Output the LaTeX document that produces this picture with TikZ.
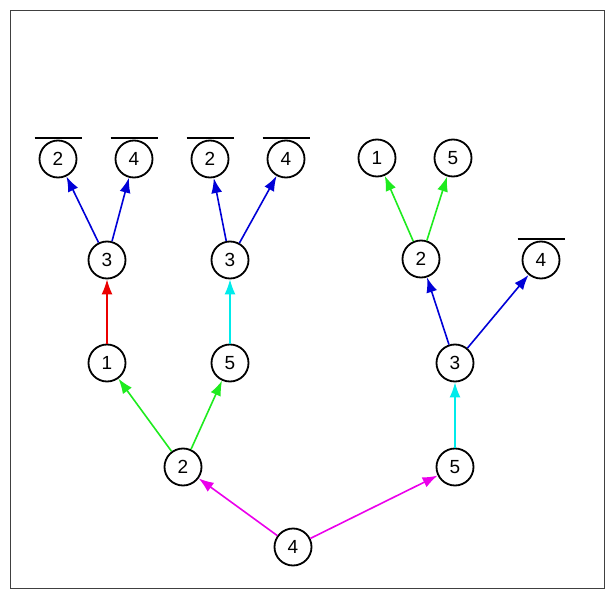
\documentclass[tikz,border=0pt]{standalone}
\usepackage{fontspec}
\setmainfont{Liberation Sans}
\usetikzlibrary{arrows.meta}
\definecolor{eblue}{RGB}{0,0,215}
\definecolor{egreen}{RGB}{30,235,30}
\definecolor{ered}{RGB}{235,0,0}
\definecolor{ecyan}{RGB}{0,235,235}
\definecolor{emagenta}{RGB}{235,0,235}
\tikzset{every node/.style={circle, draw, line width=1.8pt, minimum size=37pt, inner sep=0pt, font=\fontsize{19}{22}\selectfont},
  edge/.style={line width=1.6pt, -{Latex[length=15pt,width=11pt]}},
  overbar/.style={black, line width=1.8pt}}

\begin{document}
\begin{tikzpicture}[x=1pt,y=-1pt]
  \useasboundingbox (0,0) rectangle (614,597);
  \draw[black!75, line width=1pt] (10,10) rectangle (604,588);
  % root
  \node (r)  at (293,547) {4};
  % second level
  \node (l2) at (183,467) {2};
  \node (r5) at (455,467) {5};
  % third level
  \node (l1) at (107,363) {1};
  \node (m5) at (230,363) {5};
  \node (r3) at (455,363) {3};
  % fourth level
  \node (l3) at (107,260) {3};
  \node (m3) at (230,260) {3};
  \node (r2) at (421,259) {2};
  \node (r4) at (541,260) {4};
  % leaves
  \node (a) at ( 58,159) {2};
  \node (b) at (134,159) {4};
  \node (c) at (210,159) {2};
  \node (d) at (286,159) {4};
  \node (e) at (377,158) {1};
  \node (f) at (453,158) {5};
  \foreach \n in {a,b,c,d,r4}
    \draw[overbar] ([xshift=-23.5pt,yshift=1.5pt]\n.north) -- ++(47pt,0pt);
  \draw[edge,emagenta] (r) -- (l2);
  \draw[edge,emagenta] (r) -- (r5);
  \draw[edge,egreen] (l2) -- (l1);
  \draw[edge,egreen] (l2) -- (m5);
  \draw[edge,ered] (l1) -- (l3);
  \draw[edge,ecyan] (m5) -- (m3);
  \draw[edge,ecyan] (r5) -- (r3);
  \draw[edge,eblue] (l3) -- (a);
  \draw[edge,eblue] (l3) -- (b);
  \draw[edge,eblue] (m3) -- (c);
  \draw[edge,eblue] (m3) -- (d);
  \draw[edge,eblue] (r3) -- (r2);
  \draw[edge,eblue] (r3) -- (r4);
  \draw[edge,egreen] (r2) -- (e);
  \draw[edge,egreen] (r2) -- (f);
\end{tikzpicture}
\end{document}
